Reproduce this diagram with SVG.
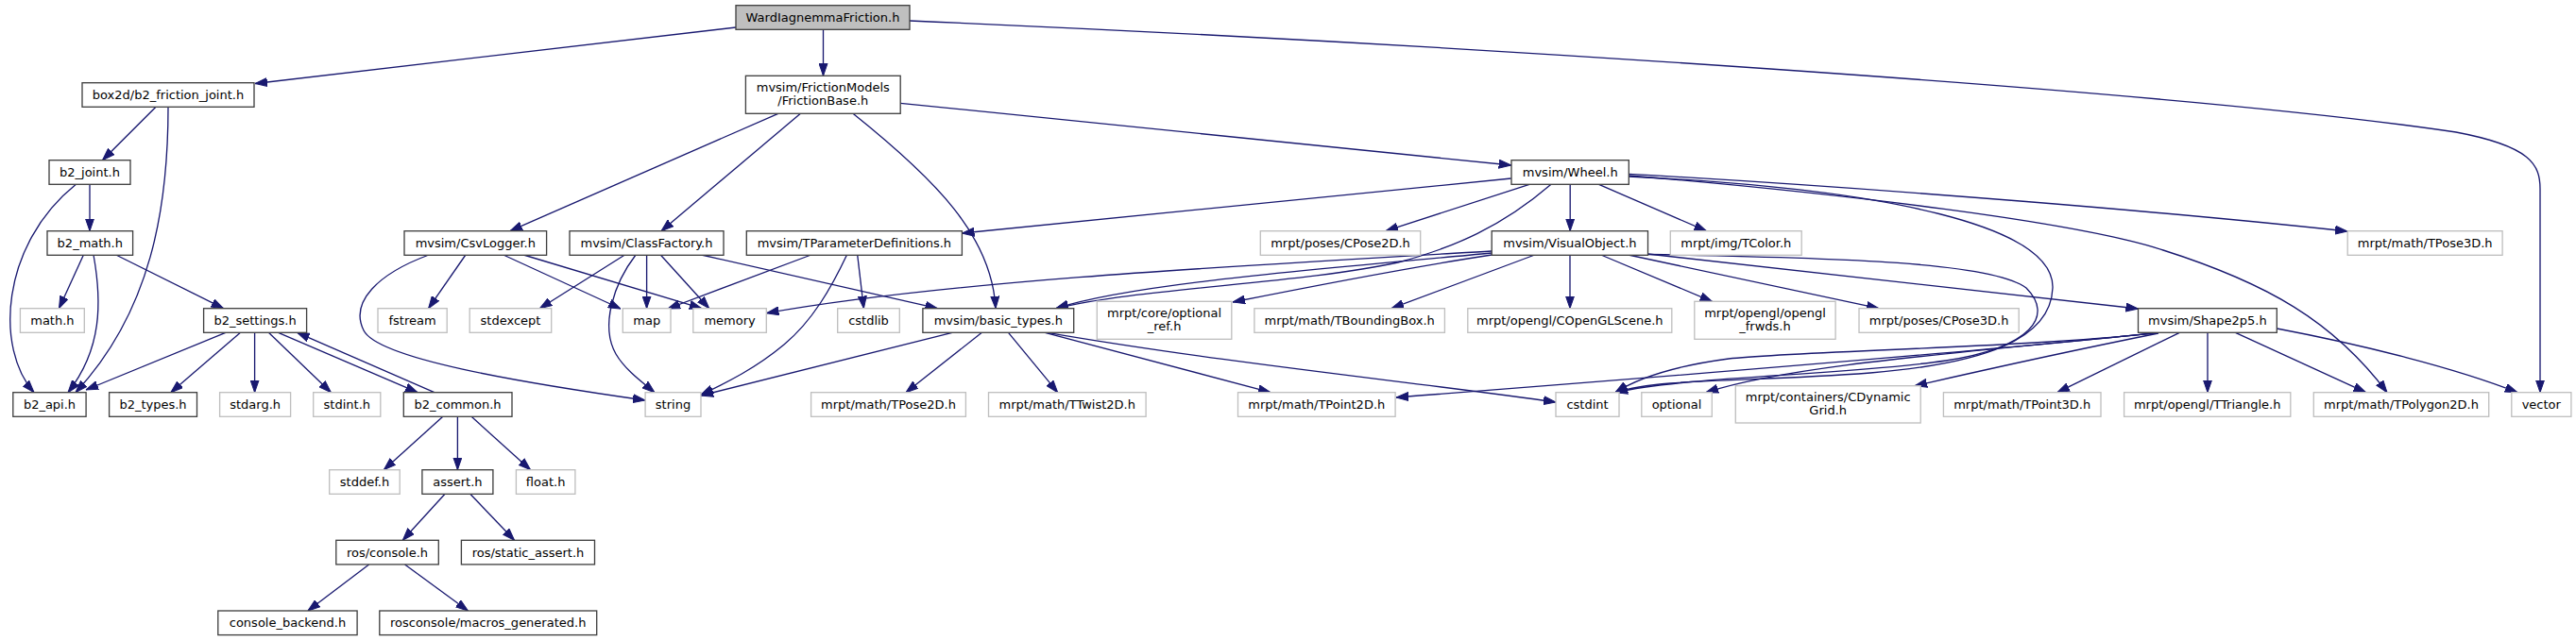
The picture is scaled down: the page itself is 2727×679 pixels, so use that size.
<svg xmlns="http://www.w3.org/2000/svg" width="2727" height="679" viewBox="0 0 2727 679">
<style>
.n rect{fill:#ffffff;stroke:#404040;stroke-width:1.33}
.x rect{fill:#ffffff;stroke:#bfbfbf;stroke-width:1.33}
.r rect{fill:#bfbfbf;stroke:#404040;stroke-width:1.33}
text{font-family:"DejaVu Sans","Liberation Sans",sans-serif;font-size:13px;fill:#000000;text-anchor:middle}
#edges path{fill:none;stroke:#191970;stroke-width:1.33;marker-end:url(#ah)}
</style>
<defs>
<marker id="ah" viewBox="0 0 13 10" refX="13" refY="5" markerWidth="13" markerHeight="10" orient="auto" markerUnits="userSpaceOnUse"><path d="M0,0.5 L13,5 L0,9.5 z" fill="#191970" stroke="#191970" stroke-width="1"/></marker>
</defs>
<rect x="0" y="0" width="2727" height="679" fill="#ffffff"/>
<g id="edges">
<path d="M779,29 L270,88.5"/>
<path d="M871.5,31.3 L871.5,80.3"/>
<path d="M963,22 C1500,45 2300,95 2600,140 C2680,155 2689,175 2689,200 L2689,415.7"/>
<path d="M165,113.3 L108.5,169.7"/>
<path d="M178,113.3 C178,220 160,330 80,415.7"/>
<path d="M95,195.3 L95,244.7"/>
<path d="M80.4,195.3 C0,260 -5,370 36,415.7"/>
<path d="M88.4,270 L62.5,326.7"/>
<path d="M99,270 C108,320 108,370 72,415.7"/>
<path d="M122.8,270 L236.6,326.7"/>
<path d="M238.8,352.3 L91,413"/>
<path d="M254.5,352.3 L180.8,415.7"/>
<path d="M269.6,352.3 L269.6,415.7"/>
<path d="M284.4,352.3 L350.4,415.7"/>
<path d="M294.6,352.3 L442,415.7"/>
<path d="M459.8,415.7 L314.7,352.3"/>
<path d="M468.8,441.3 L406.3,497.7"/>
<path d="M484.4,441.3 L484.4,497.7"/>
<path d="M499.1,441.3 L561.6,497.7"/>
<path d="M471,523.3 L426.3,572.3"/>
<path d="M497.8,523.3 L544.6,572.3"/>
<path d="M390.6,598 L325.9,647"/>
<path d="M428.6,598 L495.5,647"/>
<path d="M823.8,120.3 L540,244.7"/>
<path d="M847.4,120.3 L700,244.7"/>
<path d="M903,120.3 C990,190 1050,250 1054,326.7"/>
<path d="M953.2,109.3 L1599.7,175"/>
<path d="M454,270 C400,290 370,320 385,350 C400,380 550,405 683,424"/>
<path d="M492.9,270 L453.6,326.7"/>
<path d="M532.9,270 L657,327"/>
<path d="M554.3,270 L742.9,326.7"/>
<path d="M661.4,270 L571.4,326.7"/>
<path d="M673,270 C650,300 635,345 652,375 C662,392 680,405 693,415.7"/>
<path d="M684.6,270 L684.6,326.7"/>
<path d="M699.3,270 L750.7,326.7"/>
<path d="M742.5,270 L992.5,326.7"/>
<path d="M858.6,270 L707,327"/>
<path d="M896.5,270 C880,305 860,340 830,365 C800,390 770,405 742,418"/>
<path d="M907.7,270 L914.4,326.7"/>
<path d="M1008,352.3 L742,419"/>
<path d="M1039.4,352.3 L959,415.7"/>
<path d="M1067.5,352.3 L1119.7,415.7"/>
<path d="M1106.3,352.3 L1345,415.7"/>
<path d="M1108.6,352.3 C1300,385 1500,405 1647,426"/>
<path d="M1599.7,189 L1018.4,247"/>
<path d="M1642,195.3 C1590,240 1540,262 1480,278 C1380,300 1200,306 1118,326.7"/>
<path d="M1619,195.3 L1467,244.7"/>
<path d="M1662.2,195.3 L1662.2,244.7"/>
<path d="M1692.6,195.3 L1806.4,244.7"/>
<path d="M1724.3,184.3 C2000,200 2300,225 2485,245"/>
<path d="M1724.3,186 C1950,205 2200,235 2290,265 C2400,300 2470,340 2527,415.7"/>
<path d="M1724.3,187 C2000,200 2175,240 2173,305 C2171,360 2100,385 1980,395 C1850,405 1760,400 1710,415.7"/>
<path d="M1579.2,266 C1300,282 1000,298 811.5,331.7"/>
<path d="M1579.2,268 C1400,285 1200,300 1118,326.7"/>
<path d="M1579.2,270 C1480,285 1380,305 1305,320"/>
<path d="M1624.7,270 L1473,326.7"/>
<path d="M1662,270 L1662,326.7"/>
<path d="M1694.8,270 L1812.5,319.3"/>
<path d="M1723.8,270 L1989,326.7"/>
<path d="M1744.4,269 L2263.5,327"/>
<path d="M1744.4,269.5 C1950,273 2110,278 2145,305 C2175,335 2150,368 2060,382 C1950,398 1790,398 1710,415.7"/>
<path d="M2307.3,352.3 L2178,415.7"/>
<path d="M2337,352.3 L2337,415.7"/>
<path d="M2366.5,352.3 L2504.5,415.7"/>
<path d="M2410.3,348 C2500,365 2600,390 2665,415.7"/>
<path d="M2285,352.3 C2100,372 1750,400 1478,421"/>
<path d="M2285,352.3 C2150,368 1900,372 1830,380 C1770,388 1735,400 1710,415.7"/>
<path d="M2285,352.3 C2100,372 1900,385 1806,415.7"/>
<path d="M2285,353 C2200,370 2100,392 2027,408.7"/>
</g>
<g id="n_root" class="r"><rect x="779" y="5.7" width="184" height="25.6"/><text x="871" y="23">WardIagnemmaFriction.h</text></g>
<g id="n_box2d" class="n"><rect x="87" y="87.7" width="182" height="25.6"/><text x="178" y="105">box2d/b2_friction_joint.h</text></g>
<g id="n_frictionbase" class="n"><rect x="789.4" y="80.3" width="163.8" height="40"/><text x="871.3" y="96.6">mvsim/FrictionModels</text><text x="871.3" y="111">/FrictionBase.h</text></g>
<g id="n_b2joint" class="n"><rect x="52" y="169.7" width="86" height="25.6"/><text x="95" y="187">b2_joint.h</text></g>
<g id="n_wheel" class="n"><rect x="1600" y="169.7" width="124.3" height="25.6"/><text x="1662.2" y="187">mvsim/Wheel.h</text></g>
<g id="n_b2math" class="n"><rect x="50" y="244.7" width="90.6" height="25.6"/><text x="95.3" y="262">b2_math.h</text></g>
<g id="n_csvlogger" class="n"><rect x="428" y="244.7" width="150.6" height="25.6"/><text x="503.3" y="262">mvsim/CsvLogger.h</text></g>
<g id="n_classfactory" class="n"><rect x="603" y="244.7" width="163" height="25.6"/><text x="684.5" y="262">mvsim/ClassFactory.h</text></g>
<g id="n_tparam" class="n"><rect x="790.3" y="244.7" width="228.1" height="25.6"/><text x="904.4" y="262">mvsim/TParameterDefinitions.h</text></g>
<g id="n_visualobject" class="n"><rect x="1579.2" y="244.7" width="165.3" height="25.6"/><text x="1661.9" y="262">mvsim/VisualObject.h</text></g>
<g id="n_cpose2d" class="x"><rect x="1334.3" y="244.7" width="169.4" height="25.6"/><text x="1419" y="262">mrpt/poses/CPose2D.h</text></g>
<g id="n_tcolor" class="x"><rect x="1768.3" y="244.7" width="138.9" height="25.6"/><text x="1837.8" y="262">mrpt/img/TColor.h</text></g>
<g id="n_tpose3d" class="x"><rect x="2485.2" y="244.7" width="163.9" height="25.6"/><text x="2567.2" y="262">mrpt/math/TPose3D.h</text></g>
<g id="n_mathh" class="x"><rect x="21.4" y="326.7" width="67.9" height="25.6"/><text x="55.4" y="344">math.h</text></g>
<g id="n_b2settings" class="n"><rect x="215.6" y="326.7" width="109" height="25.6"/><text x="270.1" y="344">b2_settings.h</text></g>
<g id="n_fstream" class="x"><rect x="400" y="326.7" width="73.2" height="25.6"/><text x="436.6" y="344">fstream</text></g>
<g id="n_stdexcept" class="x"><rect x="497.2" y="326.7" width="86.5" height="25.6"/><text x="540.5" y="344">stdexcept</text></g>
<g id="n_map" class="x"><rect x="659.3" y="326.7" width="50.7" height="25.6"/><text x="684.7" y="344">map</text></g>
<g id="n_memory" class="x"><rect x="733.8" y="326.7" width="77.5" height="25.6"/><text x="772.6" y="344">memory</text></g>
<g id="n_cstdlib" class="x"><rect x="886.7" y="326.7" width="65.6" height="25.6"/><text x="919.5" y="344">cstdlib</text></g>
<g id="n_basictypes" class="n"><rect x="976.9" y="326.7" width="159.8" height="25.6"/><text x="1056.8" y="344">mvsim/basic_types.h</text></g>
<g id="n_optionalref" class="x"><rect x="1161.3" y="319.3" width="142.5" height="40"/><text x="1232.6" y="335.6">mrpt/core/optional</text><text x="1232.6" y="350">_ref.h</text></g>
<g id="n_tbbox" class="x"><rect x="1327.9" y="326.7" width="201.5" height="25.6"/><text x="1428.7" y="344">mrpt/math/TBoundingBox.h</text></g>
<g id="n_copenglscene" class="x"><rect x="1553.8" y="326.7" width="216" height="25.6"/><text x="1661.8" y="344">mrpt/opengl/COpenGLScene.h</text></g>
<g id="n_frwds" class="x"><rect x="1793.8" y="319.3" width="149.3" height="40"/><text x="1868.5" y="335.6">mrpt/opengl/opengl</text><text x="1868.5" y="350">_frwds.h</text></g>
<g id="n_cpose3d" class="x"><rect x="1968" y="326.7" width="169.2" height="25.6"/><text x="2052.6" y="344">mrpt/poses/CPose3D.h</text></g>
<g id="n_shape2p5" class="n"><rect x="2263.5" y="326.7" width="146.8" height="25.6"/><text x="2336.9" y="344">mvsim/Shape2p5.h</text></g>
<g id="n_b2api" class="n"><rect x="13.8" y="415.7" width="77.3" height="25.6"/><text x="52.5" y="433">b2_api.h</text></g>
<g id="n_b2types" class="n"><rect x="115.6" y="415.7" width="92.9" height="25.6"/><text x="162" y="433">b2_types.h</text></g>
<g id="n_stdarg" class="x"><rect x="232.6" y="415.7" width="75" height="25.6"/><text x="270.1" y="433">stdarg.h</text></g>
<g id="n_stdint" class="x"><rect x="331.7" y="415.7" width="71.1" height="25.6"/><text x="367.3" y="433">stdint.h</text></g>
<g id="n_b2common" class="n"><rect x="427.3" y="415.7" width="114.7" height="25.6"/><text x="484.6" y="433">b2_common.h</text></g>
<g id="n_string" class="x"><rect x="683.1" y="415.7" width="58.9" height="25.6"/><text x="712.5" y="433">string</text></g>
<g id="n_tpose2d" class="x"><rect x="858.6" y="415.7" width="163.8" height="25.6"/><text x="940.5" y="433">mrpt/math/TPose2D.h</text></g>
<g id="n_ttwist2d" class="x"><rect x="1046.5" y="415.7" width="166.6" height="25.6"/><text x="1129.8" y="433">mrpt/math/TTwist2D.h</text></g>
<g id="n_tpoint2d" class="x"><rect x="1310.5" y="415.7" width="166.6" height="25.6"/><text x="1393.8" y="433">mrpt/math/TPoint2D.h</text></g>
<g id="n_cstdint" class="x"><rect x="1647" y="415.7" width="67" height="25.6"/><text x="1680.5" y="433">cstdint</text></g>
<g id="n_optional" class="x"><rect x="1737.8" y="415.7" width="74.5" height="25.6"/><text x="1775" y="433">optional</text></g>
<g id="n_cdynamicgrid" class="x"><rect x="1837.3" y="408.7" width="195.9" height="39.3"/><text x="1935.2" y="424.6">mrpt/containers/CDynamic</text><text x="1935.2" y="439">Grid.h</text></g>
<g id="n_tpoint3d" class="x"><rect x="2057.4" y="415.7" width="166.6" height="25.6"/><text x="2140.7" y="433">mrpt/math/TPoint3D.h</text></g>
<g id="n_ttriangle" class="x"><rect x="2248.6" y="415.7" width="176.2" height="25.6"/><text x="2336.7" y="433">mrpt/opengl/TTriangle.h</text></g>
<g id="n_tpolygon2d" class="x"><rect x="2449.3" y="415.7" width="185.4" height="25.6"/><text x="2542" y="433">mrpt/math/TPolygon2D.h</text></g>
<g id="n_vector" class="x"><rect x="2658.8" y="415.7" width="63.1" height="25.6"/><text x="2690.3" y="433">vector</text></g>
<g id="n_stddef" class="x"><rect x="348.7" y="497.7" width="74.5" height="25.6"/><text x="386" y="515">stddef.h</text></g>
<g id="n_assert" class="n"><rect x="446.9" y="497.7" width="75" height="25.6"/><text x="484.4" y="515">assert.h</text></g>
<g id="n_float" class="x"><rect x="546.4" y="497.7" width="62.5" height="25.6"/><text x="577.6" y="515">float.h</text></g>
<g id="n_rosconsole" class="n"><rect x="355.8" y="572.3" width="108.5" height="25.6"/><text x="410" y="589.6">ros/console.h</text></g>
<g id="n_staticassert" class="n"><rect x="488.4" y="572.3" width="141.1" height="25.6"/><text x="559" y="589.6">ros/static_assert.h</text></g>
<g id="n_backend" class="n"><rect x="230.8" y="647" width="147.3" height="25.6"/><text x="304.5" y="664.3">console_backend.h</text></g>
<g id="n_macros" class="n"><rect x="401.8" y="647" width="229.9" height="25.6"/><text x="516.7" y="664.3">rosconsole/macros_generated.h</text></g>
</svg>
